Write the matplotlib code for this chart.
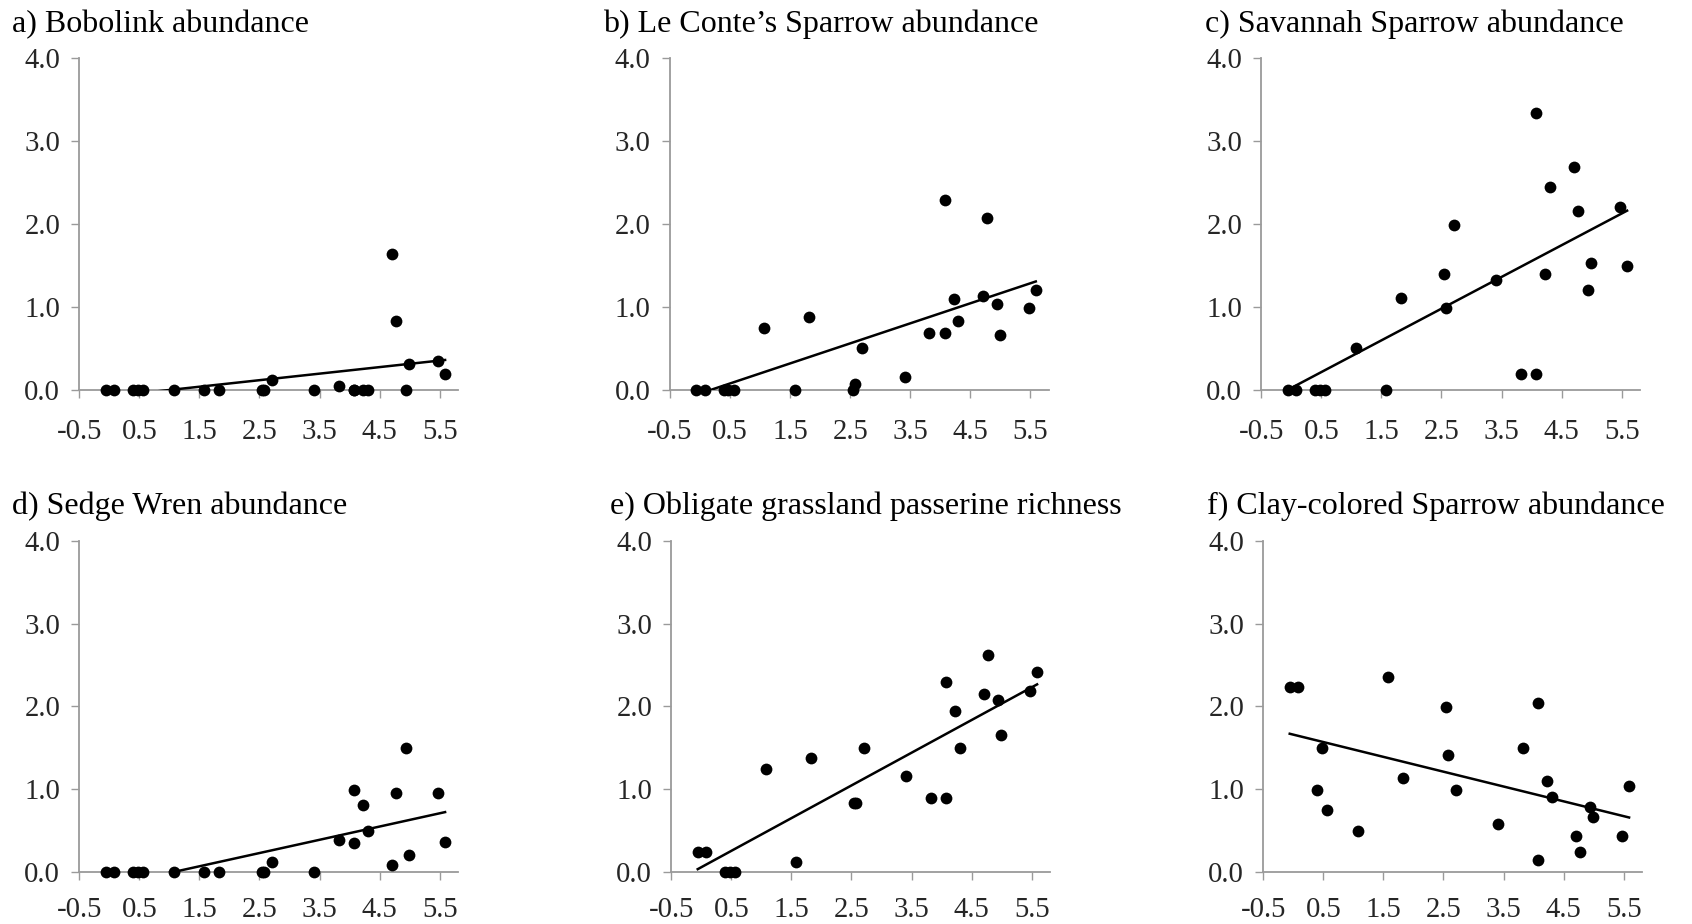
import matplotlib
matplotlib.use("Agg")
import matplotlib.pyplot as plt
import numpy as np

plt.rcParams['font.family'] = ['Liberation Serif', 'DejaVu Serif']

# ---- data ----
x_sites = [-0.06, 0.08, 0.40, 0.47, 0.56, 1.07, 1.58, 1.82, 2.54, 2.58, 2.70, 3.41,
           3.82, 4.08, 4.08, 4.23, 4.30, 4.71, 4.77, 4.94, 4.99, 5.47, 5.59]

titles = ["a) Bobolink abundance",
          "b) Le Conte\u2019s Sparrow abundance",
          "c) Savannah Sparrow abundance",
          "d) Sedge Wren abundance",
          "e) Obligate grassland passerine richness",
          "f) Clay-colored Sparrow abundance"]

y_bobolink = [0, 0, 0, 0, 0, 0, 0, 0, 0, 0, 0.11, 0, 0.04, 0, 0, 0, 0, 1.64, 0.83, 0, 0.31, 0.34, 0.19]
y_leconte = [0, 0, 0, 0, 0, 0.74, 0, 0.87, 0, 0.07, 0.50, 0.15, 0.68, 2.29, 0.68, 1.09, 0.83,
             1.13, 2.07, 1.03, 0.66, 0.99, 1.20]
y_savannah = [0, 0, 0, 0, 0, 0.50, 0, 1.11, 1.40, 0.99, 1.99, 1.32, 0.19, 3.34, 0.19, 1.39, 2.44,
              2.69, 2.16, 1.20, 1.53, 2.20, 1.49]
y_sedge = [0, 0, 0, 0, 0, 0, 0, 0, 0, 0, 0.12, 0, 0.39, 0.99, 0.35, 0.81, 0.49, 0.09, 0.95,
           1.50, 0.20, 0.95, 0.36]
y_richness = [0.24, 0.24, 0, 0, 0, 1.25, 0.12, 1.38, 0.83, 0.83, 1.50, 1.16, 0.89, 2.30, 0.89,
              1.95, 1.50, 2.15, 2.62, 2.08, 1.66, 2.19, 2.41]
y_claycolored = [2.24, 2.24, 0.99, 1.50, 0.75, 0.50, 2.36, 1.13, 1.99, 1.41, 0.99, 0.58, 1.50,
                 2.04, 0.15, 1.10, 0.91, 0.44, 0.24, 0.79, 0.66, 0.44, 1.04]

trend_slope = [0.079, 0.242, 0.383, 0.160, 0.395, -0.179]
trend_intercept = [-0.085, -0.048, 0.019, -0.171, 0.058, 1.659]

x_ticks = [-0.5, 0.5, 1.5, 2.5, 3.5, 4.5, 5.5]
y_ticks = [0.0, 1.0, 2.0, 3.0, 4.0]

series = [y_bobolink, y_leconte, y_savannah, y_sedge, y_richness, y_claycolored]

# ---- layout (pixels) ----
W, H = 1692, 924
fig = plt.figure(figsize=(W / 100, H / 100), dpi=100)

ax_left_px = [79.3, 670.0, 1261.3, 79.3, 671.3, 1263.3]
ax_bottom_px = [389.5, 389.5, 389.5, 872.0, 872.0, 872.0]   # y of 0.0 from top
ax_w_px = 379.0
ax_h_px = 331.2
title_x_px = [12, 603, 1205, 12, 610, 1207]
title_base_px = [32, 32, 32, 514, 514, 514]
xpad = [15.5, 15.5, 15.5, 12.5, 12.5, 12.5]

grey = '#9a9a9a'
for i in range(6):
    l = ax_left_px[i] / W
    b = 1 - ax_bottom_px[i] / H
    ax = fig.add_axes([l, b, ax_w_px / W, ax_h_px / H])
    ax.set_xlim(-0.5, 5.81)
    ax.set_ylim(0, 4.0)
    for s in ['top', 'right']:
        ax.spines[s].set_visible(False)
    for s in ['left', 'bottom']:
        ax.spines[s].set_color(grey)
        ax.spines[s].set_linewidth(1.3)
    ax.set_xticks(x_ticks)
    ax.set_yticks(y_ticks)
    ax.set_xticklabels([f"{v:.1f}" for v in x_ticks])
    ax.set_yticklabels([f"{v:.1f}" for v in y_ticks])
    ax.tick_params(axis='both', direction='out', length=5.8, width=1.0, color=grey,
                   labelsize=20.7, labelcolor='#262626')
    ax.tick_params(axis='y', pad=8.0)
    ax.tick_params(axis='x', pad=xpad[i])

    ys = series[i]
    ax.scatter(x_sites, ys, s=72, color='black', zorder=3, clip_on=False, linewidths=0)
    xl = np.array([min(x_sites), max(x_sites)])
    ax.plot(xl, trend_slope[i] * xl + trend_intercept[i], color='black', lw=1.8, zorder=4)

    fig.text(title_x_px[i] / W, 1 - title_base_px[i] / H, titles[i], fontsize=23,
             ha='left', va='baseline', color='black')

fig.savefig('out.png', dpi=100)
